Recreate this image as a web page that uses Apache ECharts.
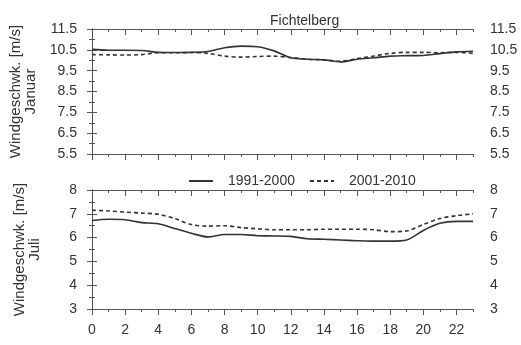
<!DOCTYPE html>
<html><head><meta charset="utf-8">
<script src="https://cdn.jsdelivr.net/npm/echarts@6/dist/echarts.min.js"></script>
<style>html,body{margin:0;padding:0;background:#fff}#c{width:521px;height:345px}</style>
</head><body><div id="c"></div>
<script>
const hours = [0,1,2,3,4,5,6,7,8,9,10,11,12,13,14,15,16,17,18,19,20,21,22,23];
const seriesNames = ['1991-2000','2001-2010'];
const jan9100 = [10.52,10.48,10.48,10.47,10.38,10.37,10.38,10.42,10.6,10.68,10.65,10.45,10.12,10.05,10.02,9.92,10.05,10.12,10.2,10.22,10.23,10.32,10.4,10.43];
const jan0110 = [10.27,10.26,10.25,10.27,10.36,10.36,10.37,10.33,10.2,10.15,10.18,10.2,10.13,10.05,10.02,9.95,10.08,10.2,10.33,10.38,10.38,10.36,10.38,10.33];
const jul9100 = [6.72,6.77,6.75,6.63,6.58,6.38,6.18,6.03,6.13,6.13,6.08,6.07,6.05,5.95,5.93,5.9,5.87,5.85,5.85,5.9,6.3,6.6,6.68,6.68];
const jul0110 = [7.15,7.12,7.07,7.03,6.98,6.8,6.55,6.48,6.5,6.42,6.37,6.33,6.33,6.33,6.35,6.35,6.35,6.33,6.25,6.28,6.55,6.8,6.92,7.0];
const janTicks = [5.5,6.5,7.5,8.5,9.5,10.5,11.5];
const janMinor = [6,7,8,9,10,11];
const julTicks = [3,4,5,6,7,8];
const julMinor = [3.5,4.5,5.5,6.5,7.5];
const xMajor = [0,2,4,6,8,10,12,14,16,18,20,22];
const xMinor = [1,3,5,7,9,11,13,15,17,19,21,23];
const title = 'Fichtelberg';
const yName1 = 'Windgeschwk. [m/s]\nJanuar';
const yName2 = 'Windgeschwk. [m/s]\nJuli';

const FONT = 'Liberation Sans, Arial, sans-serif';
const AX = '#555';
const TXT = '#333';
const pair = (xs, ys) => xs.map((x, i) => [x, ys[i]]);

function xAxes(grid, pos, showLabels) {
  const inside = pos === 'top';
  return [
    { gridIndex: grid, type: 'value', position: pos, min: 0, max: 23,
      axisLine: { show: true, lineStyle: { color: AX, width: 1 } },
      axisTick: { show: true, inside: inside, length: 6, customValues: xMajor, lineStyle: { color: AX } },
      axisLabel: { show: showLabels, customValues: xMajor, color: TXT, fontFamily: FONT, fontSize: 14, margin: 14 },
      splitLine: { show: false } },
    { gridIndex: grid, type: 'value', position: pos, min: 0, max: 23,
      axisLine: { show: false },
      axisTick: { show: true, inside: inside, length: 3, customValues: xMinor, lineStyle: { color: AX } },
      axisLabel: { show: false }, splitLine: { show: false } }
  ];
}
function yAxes(grid, pos, mn, mx, major, minor, name) {
  return [
    { gridIndex: grid, type: 'value', position: pos, min: mn, max: mx,
      name: name || '', nameLocation: 'middle', nameGap: 50, nameRotate: 90,
      nameTextStyle: { color: TXT, fontFamily: FONT, fontSize: 15, lineHeight: 15, align: 'center' },
      axisLine: { show: true, lineStyle: { color: AX, width: 1 } },
      axisTick: { show: true, length: 5, customValues: major, lineStyle: { color: AX } },
      axisLabel: { show: true, customValues: major, color: TXT, fontFamily: FONT, fontSize: 14, margin: pos === 'left' ? 15 : 17 },
      splitLine: { show: false } },
    { gridIndex: grid, type: 'value', position: pos, min: mn, max: mx,
      axisLine: { show: false },
      axisTick: { show: true, length: 3, customValues: minor, lineStyle: { color: AX } },
      axisLabel: { show: false }, splitLine: { show: false } }
  ];
}

const xs = [].concat(
  xAxes(0, 'bottom', false), xAxes(0, 'top', false),
  xAxes(1, 'bottom', true), xAxes(1, 'top', false)
);
const ys = [].concat(
  yAxes(0, 'left', 5.5, 11.5, janTicks, janMinor, yName1),
  yAxes(0, 'right', 5.5, 11.5, janTicks, janMinor, null),
  yAxes(1, 'left', 3, 8, julTicks, julMinor, yName2),
  yAxes(1, 'right', 3, 8, julTicks, julMinor, null)
);

const lineCol = '#333';
function ser(name, data, xi, yi, dashed) {
  return { name: name, type: 'line', xAxisIndex: xi, yAxisIndex: yi, data: data,
    smooth: 0.3, showSymbol: false, symbol: 'none', silent: true,
    lineStyle: { color: lineCol, width: 1.6, type: dashed ? [4, 3] : 'solid' },
    itemStyle: { color: lineCol } };
}

const chart = echarts.init(document.getElementById('c'), null, { renderer: 'canvas' });
chart.setOption({
  animation: false,
  backgroundColor: '#fff',
  title: { text: title, left: 265, top: 9, textStyle: { color: TXT, fontFamily: FONT, fontSize: 14, fontWeight: 'normal' } },
  legend: { data: seriesNames, left: 183, top: 169, itemWidth: 24, itemHeight: 10, itemGap: 14,
    itemStyle: { opacity: 0 },
    textStyle: { color: TXT, fontFamily: FONT, fontSize: 14, padding: [0, 0, 0, 10] } },
  grid: [
    { left: 92, right: 48, top: 29, height: 125 },
    { left: 92, right: 48, top: 190, height: 119 }
  ],
  xAxis: xs,
  yAxis: ys,
  series: [
    ser(seriesNames[0], pair(hours, jan9100), 0, 0, false),
    ser(seriesNames[1], pair(hours, jan0110), 0, 0, true),
    ser(seriesNames[0], pair(hours, jul9100), 4, 4, false),
    ser(seriesNames[1], pair(hours, jul0110), 4, 4, true)
  ]
});
</script></body></html>
